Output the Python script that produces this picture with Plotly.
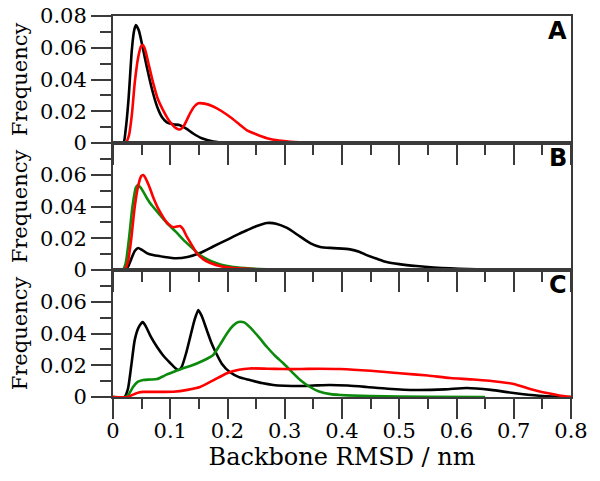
import plotly.graph_objects as go
from plotly.subplots import make_subplots

# Panel A
a_black_x = [0, 0.018, 0.022, 0.027, 0.033, 0.037, 0.040, 0.045, 0.052, 0.059, 0.068, 0.077, 0.086, 0.094, 0.105, 0.117, 0.128, 0.14, 0.155, 0.175, 0.2, 0.25, 0.3]
a_black_y = [0, 0, 0.008, 0.027, 0.059, 0.071, 0.0743, 0.071, 0.06, 0.048, 0.034, 0.023, 0.016, 0.013, 0.0118, 0.0112, 0.009, 0.006, 0.003, 0.001, 0.0002, 0, 0]
a_red_x = [0, 0.022, 0.028, 0.033, 0.038, 0.044, 0.049, 0.052, 0.056, 0.062, 0.070, 0.078, 0.087, 0.098, 0.11, 0.117, 0.124, 0.135, 0.142, 0.149, 0.16, 0.175, 0.19, 0.204, 0.22, 0.234, 0.25, 0.269, 0.29, 0.31, 0.35, 0.4, 0.5]
a_red_y = [0, 0, 0.005, 0.018, 0.038, 0.054, 0.061, 0.0617, 0.059, 0.05, 0.038, 0.028, 0.021, 0.014, 0.0094, 0.0085, 0.011, 0.019, 0.023, 0.025, 0.0248, 0.023, 0.020, 0.0165, 0.012, 0.008, 0.0055, 0.003, 0.0015, 0.0008, 0.0003, 0.0001, 0]

# Panel B
b_black_x = [0, 0.02, 0.026, 0.032, 0.038, 0.044, 0.05, 0.06, 0.07, 0.09, 0.11, 0.13, 0.152, 0.175, 0.199, 0.22, 0.234, 0.25, 0.269, 0.285, 0.304, 0.327, 0.345, 0.362, 0.385, 0.414, 0.43, 0.443, 0.46, 0.478, 0.5, 0.53, 0.56, 0.589, 0.62, 0.65, 0.7, 0.75]
b_black_y = [0, 0, 0.002, 0.007, 0.012, 0.0139, 0.0128, 0.0105, 0.0094, 0.0082, 0.0074, 0.0082, 0.0107, 0.0148, 0.019, 0.0228, 0.025, 0.0275, 0.0296, 0.0292, 0.0265, 0.021, 0.0168, 0.0145, 0.0138, 0.013, 0.0115, 0.0094, 0.0072, 0.005, 0.0037, 0.0025, 0.0016, 0.001, 0.0006, 0.0003, 0.0001, 0]
b_red_x = [0, 0.02, 0.026, 0.032, 0.038, 0.044, 0.049, 0.053, 0.058, 0.064, 0.07, 0.08, 0.094, 0.105, 0.117, 0.122, 0.129, 0.138, 0.146, 0.158, 0.17, 0.19, 0.21, 0.25, 0.3, 0.4, 0.5]
b_red_y = [0, 0, 0.005, 0.02, 0.04, 0.053, 0.059, 0.0598, 0.057, 0.052, 0.046, 0.038, 0.030, 0.027, 0.0277, 0.026, 0.021, 0.0155, 0.0107, 0.0067, 0.0044, 0.0022, 0.0012, 0.0005, 0.0002, 0.0001, 0]
b_green_x = [0, 0.017, 0.022, 0.028, 0.034, 0.040, 0.044, 0.05, 0.058, 0.065, 0.08, 0.094, 0.11, 0.123, 0.138, 0.152, 0.166, 0.18, 0.195, 0.21, 0.24, 0.27, 0.3, 0.5]
b_green_y = [0, 0, 0.004, 0.02, 0.04, 0.052, 0.0535, 0.051, 0.046, 0.042, 0.0355, 0.0296, 0.024, 0.019, 0.014, 0.0094, 0.0065, 0.0044, 0.0028, 0.0018, 0.0009, 0.0005, 0.0002, 0]

# Panel C
c_black_x = [0, 0.02, 0.026, 0.032, 0.038, 0.045, 0.052, 0.058, 0.066, 0.077, 0.088, 0.1, 0.108, 0.114, 0.12, 0.128, 0.135, 0.142, 0.149, 0.155, 0.164, 0.172, 0.18, 0.19, 0.204, 0.22, 0.239, 0.26, 0.28, 0.3, 0.327, 0.35, 0.379, 0.41, 0.443, 0.48, 0.53, 0.58, 0.618, 0.66, 0.70, 0.745, 0.78, 0.8]
c_black_y = [0, 0, 0.005, 0.02, 0.036, 0.044, 0.0472, 0.044, 0.038, 0.0315, 0.026, 0.0214, 0.0185, 0.017, 0.019, 0.028, 0.038, 0.048, 0.0548, 0.051, 0.042, 0.034, 0.0277, 0.021, 0.0157, 0.0125, 0.0107, 0.0088, 0.0076, 0.0071, 0.0069, 0.0072, 0.0076, 0.0072, 0.0063, 0.0052, 0.0044, 0.0048, 0.0057, 0.0045, 0.0025, 0.0008, 0.0002, 0]
c_red_x = [0, 0.025, 0.035, 0.045, 0.053, 0.08, 0.105, 0.13, 0.152, 0.175, 0.199, 0.22, 0.239, 0.27, 0.297, 0.327, 0.36, 0.397, 0.45, 0.501, 0.55, 0.589, 0.63, 0.676, 0.70, 0.723, 0.74, 0.758, 0.78, 0.8]
c_red_y = [0, 0, 0.0015, 0.0028, 0.0032, 0.0032, 0.0033, 0.0045, 0.0063, 0.0105, 0.015, 0.0172, 0.018, 0.0178, 0.0176, 0.0176, 0.0178, 0.0176, 0.0165, 0.015, 0.0135, 0.012, 0.011, 0.0095, 0.0082, 0.0057, 0.004, 0.0025, 0.001, 0]
c_green_x = [0, 0.022, 0.028, 0.035, 0.043, 0.053, 0.065, 0.077, 0.09, 0.105, 0.12, 0.135, 0.158, 0.175, 0.187, 0.199, 0.21, 0.219, 0.229, 0.239, 0.254, 0.269, 0.283, 0.297, 0.312, 0.327, 0.344, 0.36, 0.38, 0.397, 0.45, 0.55, 0.65]
c_green_y = [0, 0, 0.002, 0.0063, 0.0095, 0.0107, 0.011, 0.0113, 0.0135, 0.0157, 0.0178, 0.0195, 0.023, 0.0265, 0.033, 0.040, 0.045, 0.0472, 0.047, 0.044, 0.038, 0.0315, 0.026, 0.0214, 0.016, 0.0107, 0.0063, 0.0035, 0.0018, 0.0013, 0.0006, 0.0002, 0]

panel_labels = ["A", "B", "C"]
x_ticks = [0, 0.1, 0.2, 0.3, 0.4, 0.5, 0.6, 0.7, 0.8]
x_ticktext = ["0", "0.1", "0.2", "0.3", "0.4", "0.5", "0.6", "0.7", "0.8"]
y_ticks_full = [0, 0.02, 0.04, 0.06, 0.08]
y_text_full = ["0", "0.02", "0.04", "0.06", "0.08"]
y_text_short = ["0", "0.02", "0.04", "0.06", ""]

BLACK, RED, GREEN = "#000000", "#ff0000", "#0b8a0b"
SERIF = "DejaVu Serif"

fig = make_subplots(rows=3, cols=1, shared_xaxes=True, vertical_spacing=0)

panels = [
    [(a_black_x, a_black_y, BLACK), (a_red_x, a_red_y, RED)],
    [(b_black_x, b_black_y, BLACK), (b_green_x, b_green_y, GREEN), (b_red_x, b_red_y, RED)],
    [(c_black_x, c_black_y, BLACK), (c_green_x, c_green_y, GREEN), (c_red_x, c_red_y, RED)],
]
for i, series in enumerate(panels):
    for xs, ys, col in series:
        fig.add_trace(go.Scatter(x=xs, y=ys, mode="lines",
                                 line=dict(color=col, width=2.6, shape="spline", smoothing=0.6),
                                 showlegend=False, hoverinfo="skip"), row=i + 1, col=1)

axis_col = "#3a3a3a"
for i in range(3):
    fig.update_xaxes(range=[0, 0.8], tickmode="array", tickvals=x_ticks, ticktext=x_ticktext,
                     showticklabels=(i == 2), ticks="outside", ticklen=20, tickwidth=2,
                     ticklabelstandoff=-6,
                     tickcolor=axis_col, minor=dict(tickmode="linear", tick0=0, dtick=0.05, ticklen=10,
                                                    tickwidth=2, tickcolor=axis_col, ticks="outside"),
                     showline=True, linecolor=axis_col, linewidth=2, mirror=True,
                     showgrid=False, zeroline=False, automargin=False,
                     tickfont=dict(family=SERIF, size=21, color="black"),
                     row=i + 1, col=1)
    fig.update_yaxes(range=[0, 0.08], tickmode="array", tickvals=y_ticks_full,
                     ticktext=(y_text_full if i == 0 else y_text_short),
                     ticks="outside", ticklen=20, tickwidth=2, tickcolor=axis_col,
                     ticklabeloverflow="allow",
                     minor=dict(tickmode="linear", tick0=0, dtick=0.01, ticklen=11,
                                tickwidth=2, tickcolor=axis_col, ticks="outside"),
                     showline=True, linecolor=axis_col, linewidth=2, mirror=True,
                     showgrid=False, zeroline=False, automargin=False,
                     tickfont=dict(family=SERIF, size=21, color="black"),
                     title=dict(text="Frequency", font=dict(family=SERIF, size=21, color="black"), standoff=12),
                     row=i + 1, col=1)

fig.update_xaxes(title=dict(text="Backbone RMSD / nm", font=dict(family=SERIF, size=24, color="black"), standoff=2),
                 row=3, col=1)

tops = [1.0, 2 / 3, 1 / 3]
for lab, top in zip(panel_labels, tops):
    fig.add_annotation(text="<b>" + lab + "</b>", xref="paper", yref="paper", x=0.995, y=top + 0.002,
                       xanchor="right", yanchor="top", showarrow=False,
                       font=dict(family="DejaVu Sans", size=24, color="black"))

# page body adds an 8px offset; margins compensate so the plot area sits at 113..571 x 16..397
fig.update_layout(width=600, height=481, margin=dict(l=105, r=37, t=8, b=92),
                  paper_bgcolor="white", plot_bgcolor="white",
                  font=dict(family=SERIF, color="black"))

fig.write_html("out.html")
